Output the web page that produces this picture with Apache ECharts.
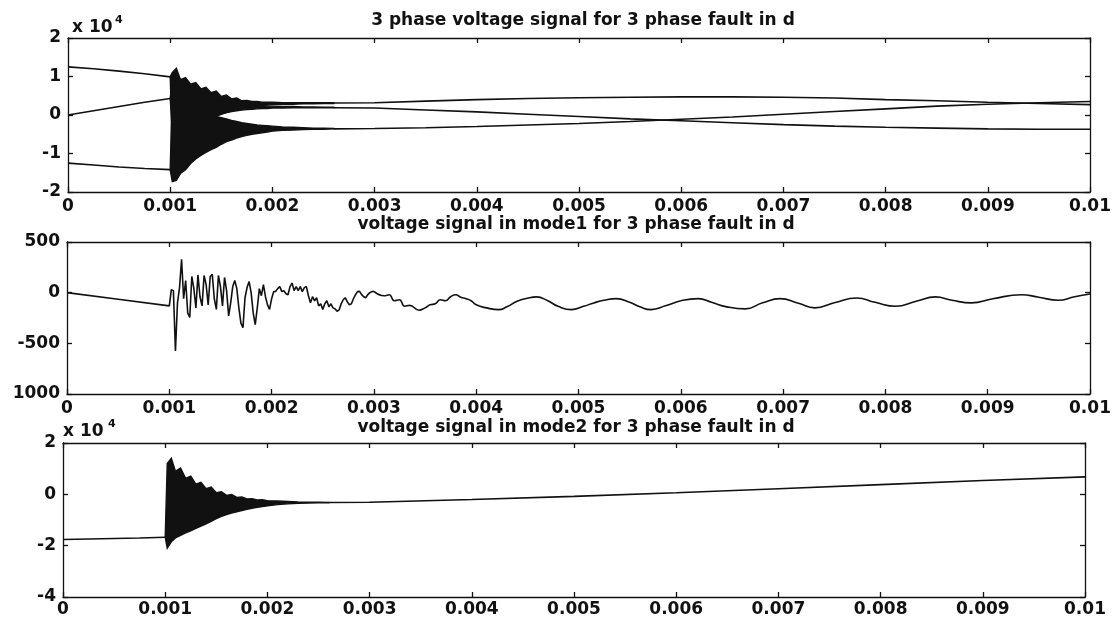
<!DOCTYPE html>
<html>
<head>
<meta charset="utf-8">
<title>3 phase fault in d</title>
<script src="https://cdn.jsdelivr.net/npm/echarts@6/dist/echarts.min.js"></script>
<style>
  html, body { margin: 0; padding: 0; background: #fff; }
  #main { width: 1114px; height: 618px; }
</style>
</head>
<body>
<div id="main"></div>
<script>
// ---- tick labels ----
var xLabels = ['0', '0.001', '0.002', '0.003', '0.004', '0.005', '0.006', '0.007', '0.008', '0.009', '0.01'];

// ---- time bases ----
var tPre = [0, 0.00025, 0.0005, 0.00075, 0.001];
// the fault transient is too dense to resolve: read as upper / lower envelopes
var tBand = [
  0.001, 0.00102, 0.00106, 0.0011, 0.00115, 0.0012, 0.00125, 0.0013, 0.00135, 0.0014,
  0.00145, 0.0015, 0.00155, 0.0016, 0.00165, 0.0017, 0.00175, 0.0018, 0.00185, 0.0019,
  0.00195, 0.002, 0.0021, 0.0022, 0.0023, 0.0024, 0.0025, 0.0026
];
var tPost = [0.0026, 0.003, 0.0035, 0.004, 0.0045, 0.005, 0.0055, 0.006, 0.0065, 0.007, 0.0075, 0.008, 0.0085, 0.009, 0.0095, 0.01];

// ---- top plot: 3 phase voltage (x 10^4) ----
var phaseAPre = [1.25, 1.20, 1.14, 1.07, 0.99];
var phaseBPre = [0, 0.11, 0.22, 0.33, 0.43];
var phaseCPre = [-1.25, -1.30, -1.35, -1.39, -1.42];

var phaseAUpper = [0.99, 1.10, 1.21, 0.92, 0.97, 0.80, 0.84, 0.68, 0.72, 0.58,
  0.62, 0.48, 0.52, 0.42, 0.44, 0.37, 0.38, 0.35, 0.35, 0.33,
  0.33, 0.33, 0.32, 0.32, 0.32, 0.32, 0.32, 0.32];
var phaseALower = [0.99, -0.60, -0.70, -0.55, -0.48, -0.36, -0.30, -0.20, -0.15, -0.08,
  -0.03, 0.02, 0.06, 0.10, 0.14, 0.17, 0.20, 0.22, 0.24, 0.25,
  0.26, 0.27, 0.28, 0.28, 0.29, 0.29, 0.30, 0.30];
var phaseBUpper = [0.43, 0.90, 0.95, 0.85, 0.80, 0.70, 0.65, 0.58, 0.53, 0.48,
  0.44, 0.40, 0.37, 0.34, 0.31, 0.29, 0.27, 0.26, 0.25, 0.24,
  0.23, 0.23, 0.22, 0.22, 0.21, 0.21, 0.20, 0.20];
var phaseBLower = [0.43, -0.40, -0.50, -0.42, -0.36, -0.28, -0.22, -0.15, -0.10, -0.05,
  -0.01, 0.03, 0.06, 0.09, 0.11, 0.13, 0.14, 0.15, 0.16, 0.17,
  0.17, 0.18, 0.18, 0.19, 0.19, 0.19, 0.19, 0.19];
var phaseCUpper = [-1.42, 0.70, 0.95, 0.70, 0.55, 0.40, 0.28, 0.15, 0.06, -0.01,
  -0.04, -0.07, -0.10, -0.14, -0.17, -0.20, -0.22, -0.24, -0.26, -0.27,
  -0.28, -0.29, -0.31, -0.32, -0.33, -0.34, -0.34, -0.35];
var phaseCLower = [-1.42, -1.73, -1.70, -1.52, -1.42, -1.26, -1.14, -1.05, -0.97, -0.90,
  -0.84, -0.76, -0.69, -0.65, -0.60, -0.56, -0.53, -0.50, -0.48, -0.46,
  -0.44, -0.42, -0.40, -0.39, -0.38, -0.37, -0.37, -0.36];

var phaseAPost = [0.31, 0.32, 0.36, 0.40, 0.43, 0.45, 0.46, 0.47, 0.47, 0.46, 0.44, 0.40, 0.37, 0.33, 0.30, 0.27];
var phaseBPost = [0.19, 0.18, 0.13, 0.08, 0.02, -0.04, -0.10, -0.15, -0.20, -0.25, -0.29, -0.32, -0.34, -0.36, -0.37, -0.37];
var phaseCPost = [-0.36, -0.35, -0.33, -0.30, -0.26, -0.22, -0.17, -0.11, -0.05, 0.02, 0.09, 0.16, 0.23, 0.28, 0.32, 0.35];

// ---- middle plot: mode1 ----
var mode1PreT = [0, 0.0005, 0.001];
var mode1Pre = [0, -65, -130];
var mode1Start = 0.001;
var mode1Step = 0.00002;    // fault array starts at mode1Start + mode1Step
var mode1Fault = [
  30, 20, -575, -100, 50, 330, -60, 120, -200, -245,
  160, 40, -150, 175, -40, -130, 170, 80, -120, 160,
  180, -60, -165, 170, 60, -130, 150, 20, -230, -100,
  60, 120, 40, -150, -300, -345, -50, 50, 110, 0,
  -200, -315, -150, 40, -30, 80, -40, -120, -165, -60,
  10, 13, 40, 60, 10, 20, -10, -20, 60, 95,
  20, 60, 20, 60, 10, 50, 60, -30, -100, -40,
  -80, -50, -130, -110, -165, -110, -80, -140, -110, -150,
  -160, -183, -170, -110, -70, -50, -90, -120, -110, -60,
  -20, 10, 13, -20, -40, -50, -20, 0, 10, 13
];
var mode1PostT = [
  0.003, 0.0031, 0.00315, 0.0032, 0.00325, 0.0033, 0.00335, 0.00344, 0.0035, 0.00355,
  0.0036, 0.00365, 0.0037, 0.00375, 0.0038, 0.00385, 0.0039, 0.00395, 0.004, 0.0041,
  0.00422, 0.0043, 0.0044, 0.0045, 0.00459, 0.0047, 0.0048, 0.00493, 0.00505, 0.00515,
  0.00525, 0.00537, 0.0055, 0.0056, 0.00571, 0.00585, 0.006, 0.00617, 0.0063, 0.00645,
  0.00663, 0.0068, 0.00697, 0.00715, 0.00731, 0.0075, 0.00772, 0.0079, 0.0081, 0.0083,
  0.00849, 0.00865, 0.00884, 0.00905, 0.00933, 0.0095, 0.00969, 0.00985, 0.01
];
var mode1Post = [
  13, -30, -20, -80, -70, -134, -125, -173, -150, -120,
  -110, -70, -80, -40, -20, -45, -60, -80, -120, -150,
  -167, -140, -85, -55, -42, -80, -135, -167, -135, -101,
  -75, -59, -95, -140, -167, -130, -80, -59, -95, -140,
  -160, -100, -59, -105, -150, -100, -52, -95, -134, -85,
  -42, -75, -101, -60, -20, -45, -75, -40, -13
];

// ---- bottom plot: mode2 (x 10^4) ----
var mode2Pre = [-1.76, -1.74, -1.72, -1.70, -1.67];
var mode2Upper = [-1.67, 1.20, 1.41, 0.90, 1.03, 0.62, 0.71, 0.40, 0.47, 0.22,
  0.28, 0.06, 0.10, -0.04, -0.01, -0.12, -0.10, -0.18, -0.17, -0.22,
  -0.21, -0.25, -0.26, -0.28, -0.30, -0.31, -0.31, -0.32];
var mode2Lower = [-1.67, -2.10, -1.85, -1.70, -1.60, -1.50, -1.42, -1.33, -1.24, -1.15,
  -1.05, -0.95, -0.86, -0.79, -0.73, -0.68, -0.63, -0.58, -0.54, -0.51,
  -0.48, -0.45, -0.40, -0.37, -0.35, -0.34, -0.33, -0.33];
var mode2PostT = [0.0026, 0.003, 0.004, 0.005, 0.006, 0.007, 0.008, 0.009, 0.01];
var mode2Post = [-0.32, -0.31, -0.20, -0.08, 0.06, 0.22, 0.38, 0.54, 0.68];

// ---- helpers ----
var FONT = 'DejaVu Sans';
var INK = '#111';

function zip(ts, vals) {
  return vals.map(function (v, i) { return [ts[i], v]; });
}
function stepped(t0, dt, vals) {
  return vals.map(function (v, i) { return [t0 + (i + 1) * dt, v]; });
}

function xAxes(g, margin) {
  var base = {
    type: 'value', gridIndex: g, min: 0, max: 0.01, interval: 0.001,
    axisLine: { onZero: false, lineStyle: { color: INK, width: 1.3 } },
    axisTick: { inside: true, length: 5, lineStyle: { color: INK, width: 1.3 } },
    splitLine: { show: false }
  };
  return [
    Object.assign({}, base, {
      position: 'bottom',
      axisLabel: {
        margin: margin, color: INK, fontFamily: FONT, fontSize: 17, fontWeight: 'bold',
        formatter: function (v) { return xLabels[Math.round(v * 1000)]; }
      }
    }),
    Object.assign({}, base, { position: 'top', axisLabel: { show: false } })
  ];
}

function yAxes(g, min, max, step, fmt) {
  var base = {
    type: 'value', gridIndex: g, min: min, max: max, interval: step,
    axisLine: { onZero: false, lineStyle: { color: INK, width: 1.3 } },
    axisTick: { inside: true, length: 5, lineStyle: { color: INK, width: 1.3 } },
    splitLine: { show: false }
  };
  return [
    Object.assign({}, base, {
      position: 'left',
      axisLabel: { margin: 7, color: INK, fontFamily: FONT, fontSize: 17, fontWeight: 'bold', formatter: fmt }
    }),
    Object.assign({}, base, { position: 'right', axisLabel: { show: false } })
  ];
}

function lineSeries(name, xi, data, smooth) {
  return {
    name: name, type: 'line', xAxisIndex: xi, yAxisIndex: xi,
    data: data, showSymbol: false, symbol: 'none', smooth: smooth || false,
    lineStyle: { color: INK, width: 1.6 }
  };
}

// filled band between the read upper and lower envelopes of a transient
function bandSeries(name, xi, times, upper, lower) {
  var rows = times.map(function (t, i) { return [t, upper[i], lower[i]]; });
  return {
    name: name, type: 'custom', xAxisIndex: xi, yAxisIndex: xi,
    data: rows, encode: { x: 0, y: [1, 2] }, silent: true,
    renderItem: function (params, api) {
      if (params.dataIndex !== 0) return null;
      var pts = [];
      for (var i = 0; i < rows.length; i++) pts.push(api.coord([rows[i][0], rows[i][1]]));
      for (var j = rows.length - 1; j >= 0; j--) pts.push(api.coord([rows[j][0], rows[j][2]]));
      return { type: 'polygon', shape: { points: pts }, style: { fill: INK, stroke: INK, lineWidth: 1.4 } };
    }
  };
}

function label(text, x, y, size, align) {
  return {
    type: 'text', x: x, y: y, silent: true,
    style: {
      text: text, font: 'bold ' + size + 'px "' + FONT + '"', fill: INK,
      align: align, textAlign: align, verticalAlign: 'middle', textVerticalAlign: 'middle'
    }
  };
}

var chart = echarts.init(document.getElementById('main'));

var option = {
  backgroundColor: '#fff',
  animation: false,
  grid: [
    { left: 68, top: 38, width: 1024, height: 154 },
    { left: 67, top: 242, width: 1023, height: 152 },
    { left: 63, top: 443, width: 1022, height: 155 }
  ],
  xAxis: [].concat(xAxes(0, 6), xAxes(1, 6), xAxes(2, 4)),
  yAxis: [].concat(
    yAxes(0, -2, 2, 1, function (v) { return String(v); }),
    yAxes(1, -1000, 500, 500, function (v) { return v === -1000 ? '1000' : String(v); }),
    yAxes(2, -4, 2, 2, function (v) { return String(v); })
  ),
  graphic: [
    label('3 phase voltage signal for 3 phase fault in d', 583, 21, 17, 'center'),
    label('voltage signal in mode1 for 3 phase fault in d', 576, 225, 17, 'center'),
    label('voltage signal in mode2 for 3 phase fault in d', 576, 428, 17, 'center'),
    label('x 10', 72, 28, 17, 'left'),
    label('4', 115, 20, 11, 'left'),
    label('x 10', 63, 432, 17, 'left'),
    label('4', 108, 424, 11, 'left')
  ],
  series: [
    lineSeries('phase a pre', 0, zip(tPre, phaseAPre)),
    lineSeries('phase b pre', 0, zip(tPre, phaseBPre)),
    lineSeries('phase c pre', 0, zip(tPre, phaseCPre)),
    bandSeries('phase a fault', 0, tBand, phaseAUpper, phaseALower),
    bandSeries('phase b fault', 0, tBand, phaseBUpper, phaseBLower),
    bandSeries('phase c fault', 0, tBand, phaseCUpper, phaseCLower),
    lineSeries('phase a', 0, zip(tPost, phaseAPost)),
    lineSeries('phase b', 0, zip(tPost, phaseBPost)),
    lineSeries('phase c', 0, zip(tPost, phaseCPost)),
    lineSeries('mode1 fault', 2, zip(mode1PreT, mode1Pre).concat(stepped(mode1Start, mode1Step, mode1Fault))),
    lineSeries('mode1 after', 2, zip(mode1PostT, mode1Post), 0.5),
    lineSeries('mode2 pre', 4, zip(tPre, mode2Pre)),
    bandSeries('mode2 fault', 4, tBand, mode2Upper, mode2Lower),
    lineSeries('mode2', 4, zip(mode2PostT, mode2Post))
  ]
};

chart.setOption(option);
</script>
</body>
</html>
